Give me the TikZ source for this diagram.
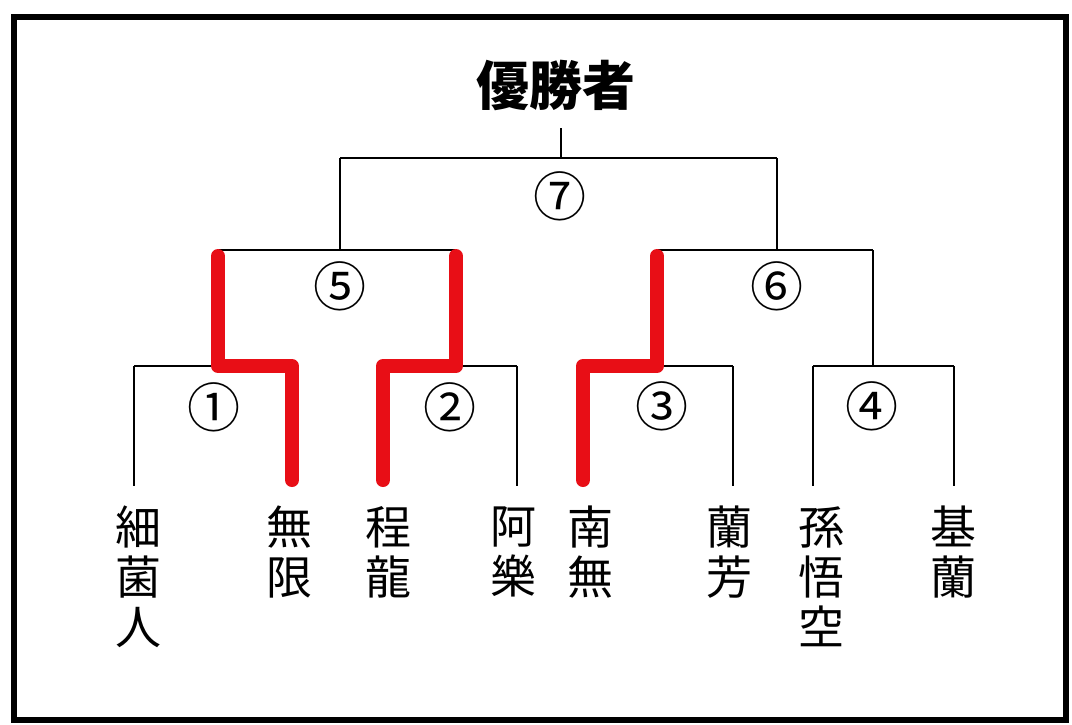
\documentclass[tikz,border=0pt]{standalone}
\usepackage{fontspec}
\newfontfamily\cjk{Noto Sans CJK JP}
\definecolor{winred}{RGB}{232,14,22}

\begin{document}
\begin{tikzpicture}[x=1pt,y=-1pt,
    bracket/.style={line width=2.9pt},
    winpath/.style={winred, line width=14pt, line cap=round, line join=round, shorten <=6pt, shorten >=6pt},
    player/.style={font=\cjk\fontsize{46}{50}\selectfont, align=center, anchor=north, inner xsep=0pt, inner ysep=20pt},
    matchno/.style={font=\cjk\fontsize{53}{53}\selectfont, inner sep=0pt}]

% Frame
\useasboundingbox (0,0) rectangle (1072,724);
\draw[line width=6pt] (14,17) rectangle (1066,720);

% Title
\node[font=\cjk\bfseries\fontsize{53}{53}\selectfont, inner sep=0pt, outer ysep=18pt] (champ) at (556,85) {優勝者};

% Players
\node[player] (p1) at (138,486) {細\\菌\\人};
\node[player] (p2) at (289,486) {無\\限};
\node[player] (p3) at (388,486) {程\\龍};
\node[player] (p4) at (513,486) {阿\\樂};
\node[player] (p5) at (590,486) {南\\無};
\node[player] (p6) at (729,486) {蘭\\芳};
\node[player] (p7) at (821,486) {孫\\悟\\空};
\node[player] (p8) at (953,486) {基\\蘭};

% Bracket points
\coordinate (top) at (561,158);
\coordinate (s5) at (340,158);
\coordinate (s6) at (777,158);
\coordinate (b5l) at (218,250);
\coordinate (b5r) at (456,250);
\coordinate (b6l) at (657,250);
\coordinate (b6r) at (873,250);
\coordinate (a1) at (134,366);
\coordinate (a2) at (292,366);
\coordinate (a3) at (383,366);
\coordinate (a4) at (517,366);
\coordinate (a5) at (583,366);
\coordinate (a6) at (733,366);
\coordinate (a7) at (813,366);
\coordinate (a8) at (954,366);

% Final
\draw[bracket] (top) -- (top |- champ.south);
\draw[bracket] (s5) -- (s6);
\draw[bracket] (s5) -- (s5 |- b5l);
\draw[bracket] (s6) -- (s6 |- b6l);
\node[matchno] (m7) at (560,196) {⑦};

% Semi finals
\draw[bracket] (b5l) -- (b5r);
\draw[bracket] (b6l) -- (b6r);
\draw[bracket] (b5l) -- (b5l |- a1);
\draw[bracket] (b5r) -- (b5r |- a3);
\draw[bracket] (b6l) -- (b6l |- a5);
\draw[bracket] (b6r) -- (b6r |- a7);
\node[matchno] (m5) at (340,286) {⑤};
\node[matchno] (m6) at (777,286) {⑥};

% First round
\draw[bracket] (a1) -- (a2);
\draw[bracket] (a3) -- (a4);
\draw[bracket] (a5) -- (a6);
\draw[bracket] (a7) -- (a8);
\draw[bracket] (a1) -- (a1 |- p1.north);
\draw[bracket] (a2) -- (a2 |- p2.north);
\draw[bracket] (a3) -- (a3 |- p3.north);
\draw[bracket] (a4) -- (a4 |- p4.north);
\draw[bracket] (a5) -- (a5 |- p5.north);
\draw[bracket] (a6) -- (a6 |- p6.north);
\draw[bracket] (a7) -- (a7 |- p7.north);
\draw[bracket] (a8) -- (a8 |- p8.north);
\node[matchno] (m1) at (214,407) {①};
\node[matchno] (m2) at (450,407) {②};
\node[matchno] (m3) at (662,406) {③};
\node[matchno] (m4) at (872,406) {④};

% Winners marked in red
\draw[winpath] (b5l) -- (b5l |- a2) -- (a2) -- (a2 |- p2.north);
\draw[winpath] (b5r) -- (b5r |- a3) -- (a3) -- (a3 |- p3.north);
\draw[winpath] (b6l) -- (b6l |- a5) -- (a5) -- (a5 |- p5.north);

\end{tikzpicture}
\end{document}
